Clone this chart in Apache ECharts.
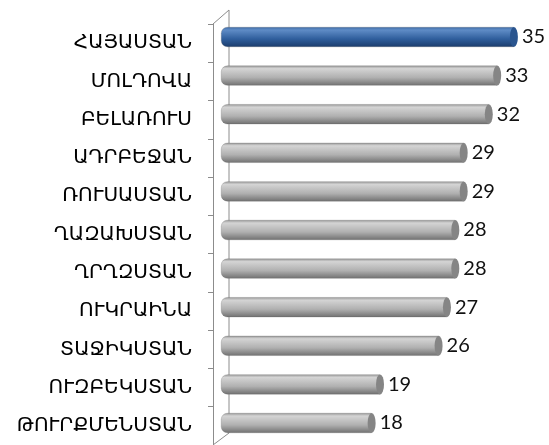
<!DOCTYPE html>
<html>
<head>
<meta charset="utf-8">
<script src="https://cdn.jsdelivr.net/npm/echarts@6/dist/echarts.min.js"></script>
<style>
html,body{margin:0;padding:0;background:#fff;}
#main{width:549px;height:445px;}
</style>
</head>
<body>
<div id="main"></div>
<script>
//国家名称
var countries = ['ՀԱՅԱՍՏԱՆ','ՄՈԼԴՈՎԱ','ԲԵԼԱՌՈՒՍ','ԱԴՐԲԵՋԱՆ','ՌՈՒՍԱՍՏԱՆ','ՂԱԶԱԽՍՏԱՆ','ՂՐՂԶՍՏԱՆ','ՈՒԿՐԱԻՆԱ','ՏԱՋԻԿՍՏԱՆ','ՈՒԶԲԵԿՍՏԱՆ','ԹՈՒՐՔՄԵՆՍՏԱՆ'];
//数值
var values = [35,33,32,29,29,28,28,27,26,19,18];
var highlight = 'ՀԱՅԱՍՏԱՆ';

var myChart = echarts.init(document.getElementById('main'));

function grad(c1, c2, c3, c4){
    return new echarts.graphic.LinearGradient(0,0,0,1,[
        {offset:0, color:c1},
        {offset:0.15, color:c2},
        {offset:0.6, color:c3},
        {offset:1, color:c4}
    ]);
}
var grayFill = grad('#959595','#d4d4d4','#b0b0b0','#707070');
var blueFill = grad('#3d6aa6','#5f8cc6','#2f5e9c','#1b3c6c');

var barData = [];
var capData = [];
for(var i=0;i<countries.length;i++){
    var isHi = countries[i] == highlight;
    barData.push({value:values[i], itemStyle:{color:isHi ? blueFill : grayFill}});
    capData.push({value:values[i], itemStyle:{color:isHi ? '#2a558f' : '#858585'}});
}

var option = {
    animation:false,
    backgroundColor:'#fff',
    grid:[
        {left:221, right:10, top:17.7, height:424.6},
        {left:213, right:10, top:24, height:421}
    ],
    xAxis:[
        {gridIndex:0, type:'value', min:0, max:38, show:false},
        {gridIndex:1, type:'value', min:0, max:38, show:false}
    ],
    yAxis:[
        {gridIndex:0, type:'category', data:countries, inverse:true, show:false},
        {
            gridIndex:1, type:'category', data:countries, inverse:true,
            axisLine:{show:true, lineStyle:{color:'#8c8c8c', width:1}},
            axisTick:{show:true, inside:false, length:5, lineStyle:{color:'#8c8c8c'}},
            axisLabel:{margin:21, color:'#000', fontSize:20, fontFamily:'DejaVu Sans', padding:[4,0,0,0]}
        }
    ],
    graphic:[
        //立体墙
        {type:'polyline', z:0, shape:{points:[[213,24],[229,10],[229,433],[213,445]]},
            style:{stroke:'#8c8c8c', lineWidth:1, fill:null}}
    ],
    series:[
        {
            type:'bar', xAxisIndex:0, yAxisIndex:0, z:3,
            barWidth:20, data:barData,
            itemStyle:{borderRadius:[6,0,0,6], borderColor:'rgba(90,90,90,0.5)', borderWidth:0.5}
        },
        {
            type:'pictorialBar', xAxisIndex:0, yAxisIndex:0, z:4,
            symbol:'circle', symbolSize:[8,20], symbolPosition:'end', symbolOffset:['50%',0],
            data:capData,
            label:{show:true, position:'right', distance:4, color:'#111', fontSize:20, fontFamily:'Lato'}
        }
    ]
};
myChart.setOption(option);
</script>
</body>
</html>
